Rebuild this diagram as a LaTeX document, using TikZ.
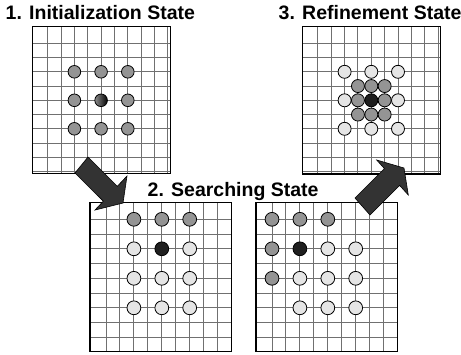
\documentclass[tikz,border=0pt]{standalone}
\usepackage{fontspec}
\setmainfont{Liberation Sans}
\newcommand{\drawgrid}[9]{%
  \node[gridbg, minimum width=#4pt, minimum height=#5pt] (#1) at (#2,#3) {};
  \begin{scope}
    \clip (#1.north west) rectangle (#1.south east);
    \foreach \k in {0,...,9}{
      \draw[gridline] ({#2+#6+\k*#8},#3) -- ++(0,#5);
      \draw[gridline] (#2,{#3+#7+\k*#9}) -- ++(#4,0);
    }
  \end{scope}
  \draw[frame] (#1.north west) rectangle (#1.south east);
}
\begin{document}
\begin{tikzpicture}[x=1pt,y=-1pt,
  title/.style={font=\fontsize{19.5}{23}\selectfont\bfseries, inner sep=0pt, anchor=base west},
  gridbg/.style={fill=white, inner sep=0pt, outer sep=0pt, anchor=north west},
  gridline/.style={draw=black!56, line width=1pt},
  frame/.style={draw=black, line width=1.3pt},
  dgray/.style={fill=black!42, draw=black, line width=0.8pt},
  lgray/.style={fill=black!10, draw=black, line width=0.8pt},
  dblack/.style={fill=black!88, draw=black, line width=0.8pt},
  shadeddisk/.style={left color=black!45, right color=black, draw=black, line width=0.8pt},
  bigarrow/.style={fill=black!80, draw=black, line width=0.6pt, line join=miter}]
\useasboundingbox (0,0) rectangle (461,354);

% titles
\node[title] (t1) at (5.5,19) {1. Initialization State};
\node[title] (t3) at (278.5,19) {3. Refinement State};
\node[title] (t2) at (147.5,196.5) {2. Searching State};

% grids
\drawgrid{g1}{32.3}{26.7}{138.4}{147}{15.4}{16.6}{13.35}{14.25}
\drawgrid{g3}{302.5}{26.7}{138.2}{147.3}{15.4}{16.6}{13.35}{14.25}
\drawgrid{g2a}{90}{202.3}{141.7}{149.4}{16}{17}{13.95}{14.75}
\drawgrid{g2b}{256}{202.3}{141.7}{149.4}{16}{17}{13.95}{14.75}

% grid 1 disks
\begin{scope}[shift={(47.7,43.3)}, x=13.35pt, y=-14.25pt]
  \foreach \i/\j in {2/2,4/2,6/2,2/4,6/4,2/6,4/6,6/6}
    \draw[dgray] (\i,\j) circle[radius=6.3pt];
  \draw[shadeddisk] (4,4) circle[radius=6.3pt];
\end{scope}

% grid 3 disks
\begin{scope}[shift={(317.9,43.3)}, x=13.35pt, y=-14.25pt]
  \foreach \i/\j in {2/2,4/2,6/2,2/4,6/4,2/6,4/6,6/6}
    \draw[lgray] (\i,\j) circle[radius=6.5pt];
  \foreach \i/\j in {3/3,4/3,5/3,3/4,5/4,3/5,4/5,5/5}
    \draw[dgray] (\i,\j) circle[radius=6.5pt];
  \draw[dblack] (4,4) circle[radius=6.5pt];
\end{scope}

% grid 2a disks
\begin{scope}[shift={(106,219.3)}, x=13.95pt, y=-14.75pt]
  \foreach \i/\j in {2/0,4/0,6/0}
    \draw[dgray] (\i,\j) circle[radius=6.9pt];
  \foreach \i/\j in {2/2,6/2,2/4,4/4,6/4,2/6,4/6,6/6}
    \draw[lgray] (\i,\j) circle[radius=6.9pt];
  \draw[dblack] (4,2) circle[radius=6.9pt];
\end{scope}

% grid 2b disks
\begin{scope}[shift={(272,219.3)}, x=13.95pt, y=-14.75pt]
  \foreach \i/\j in {0/0,2/0,4/0,0/2,0/4}
    \draw[dgray] (\i,\j) circle[radius=6.9pt];
  \foreach \i/\j in {4/2,6/2,2/4,4/4,6/4,2/6,4/6,6/6}
    \draw[lgray] (\i,\j) circle[radius=6.9pt];
  \draw[dblack] (2,2) circle[radius=6.9pt];
\end{scope}

% block arrows
\draw[bigarrow] (88,157) -- (117.3,186.3) -- (127,176) -- (123,203) -- (95,210)
  -- (103.3,201.2) -- (75,173) -- cycle;
\draw[bigarrow] (355,198) -- (384.4,168.6) -- (376.7,160) -- (404,168) -- (408.3,195)
  -- (399.6,185.4) -- (370,215) -- cycle;
\end{tikzpicture}
\end{document}
